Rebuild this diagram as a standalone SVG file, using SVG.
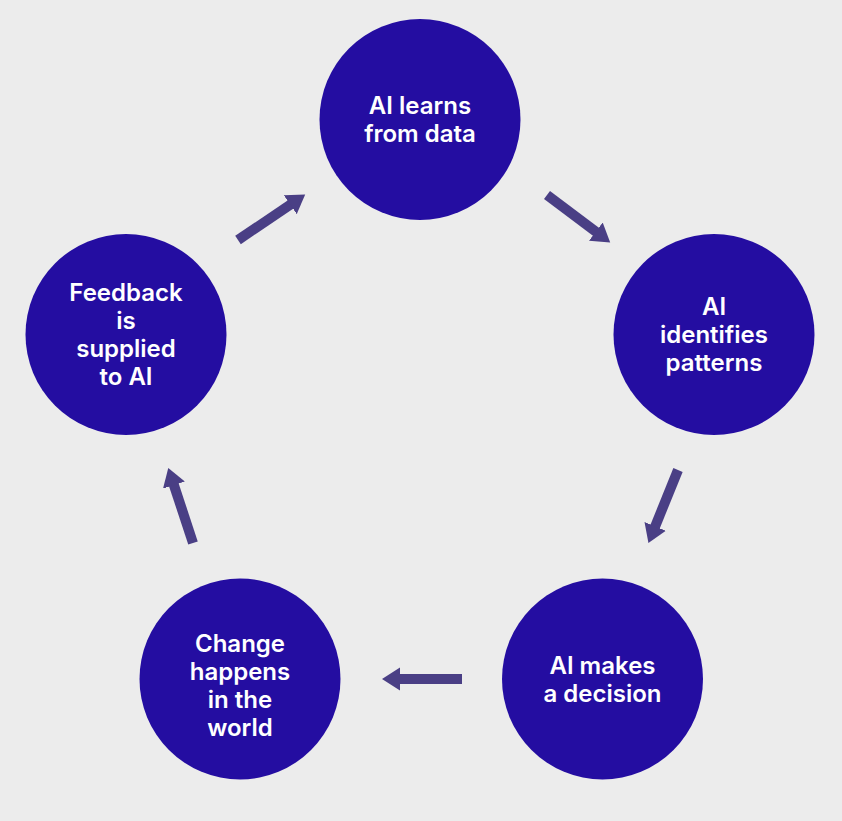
<svg xmlns="http://www.w3.org/2000/svg" width="842" height="821" viewBox="0 0 842 821">
<style>
.node{fill:#240DA1;}
.lbl{fill:#ffffff;font-family:Inter,"Liberation Sans",sans-serif;font-weight:600;font-size:24px;text-anchor:middle;}
.conn{stroke:#4A3F85;stroke-width:10;fill:none;marker-end:url(#ah);}
</style>
<defs>
<marker id="ah" markerUnits="userSpaceOnUse" markerWidth="20" markerHeight="24" viewBox="0 -12 20 24" refX="1" refY="0" orient="auto">
<path d="M0,-11.5 L18,0 L0,11.5 z" fill="#4A3F85"/>
</marker>
</defs>
<rect width="842" height="821" fill="#ECECEC"/>
<g id="connectors">
<line class="conn" x1="238" y1="240" x2="291.1" y2="204.1"/>
<line class="conn" x1="547" y1="195" x2="596.6" y2="232.2"/>
<line class="conn" x1="678" y1="470" x2="654.8" y2="527.3"/>
<line class="conn" x1="462" y1="679" x2="399" y2="679"/>
<line class="conn" x1="193" y1="543" x2="173.6" y2="484.1"/>
</g>
<g id="n1">
<circle class="node" cx="420" cy="119.5" r="100.5"/>
<text class="lbl" x="420" y="114">AI learns</text>
<text class="lbl" x="420" y="142">from data</text>
</g>
<g id="n2">
<circle class="node" cx="714" cy="334.5" r="100.5"/>
<text class="lbl" x="714" y="314.5">AI</text>
<text class="lbl" x="714" y="342.5">identifies</text>
<text class="lbl" x="714" y="370.5">patterns</text>
</g>
<g id="n3">
<circle class="node" cx="602.5" cy="679" r="100.5"/>
<text class="lbl" x="602.5" y="673.5">AI makes</text>
<text class="lbl" x="602.5" y="701.5">a decision</text>
</g>
<g id="n4">
<circle class="node" cx="240" cy="679" r="100.5"/>
<text class="lbl" x="240" y="651.5">Change</text>
<text class="lbl" x="240" y="679.5">happens</text>
<text class="lbl" x="240" y="707.5">in the</text>
<text class="lbl" x="240" y="735.5">world</text>
</g>
<g id="n5">
<circle class="node" cx="126" cy="334.5" r="100.5"/>
<text class="lbl" x="126" y="300.5">Feedback</text>
<text class="lbl" x="126" y="328.5">is</text>
<text class="lbl" x="126" y="356.5">supplied</text>
<text class="lbl" x="126" y="384.5">to AI</text>
</g>
</svg>
